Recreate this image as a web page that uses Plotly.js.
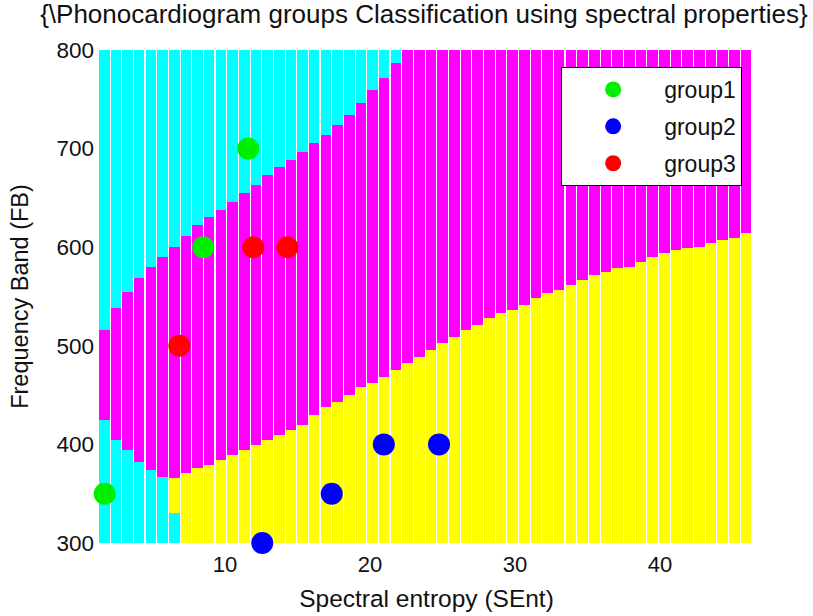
<!DOCTYPE html>
<html>
<head>
<meta charset="utf-8">
<script src="https://cdn.plot.ly/plotly-3.0.1.min.js"></script>
<style>html,body{margin:0;padding:0;background:#fff;}#chart{width:813px;height:616px;}</style>
</head>
<body>
<div id="chart"></div>
<script>
// Classification grid columns (Spectral entropy positions of each grid column)
const columnX = [1.67,2.47,3.28,4.08,4.89,5.69,6.50,7.30,8.11,8.91,9.72,10.52,11.33,12.13,12.94,13.74,14.55,15.35,16.15,16.96,17.76,18.57,19.37,20.18,20.98,21.79,22.59,23.40,24.20,25.01,25.81,26.62,27.42,28.23,29.03,29.83,30.64,31.44,32.25,33.05,33.86,34.66,35.47,36.27,37.08,37.88,38.69,39.49,40.30,41.10,41.91,42.71,43.51,44.32,45.12,45.93];
// top of the low cyan band (300 = none)
const cyanFloorTop = [424.7,404.5,394.3,382.2,374.0,366.9,330,300,300,300,300,300,300,300,300,300,300,300,300,300,300,300,300,300,300,300,300,300,300,300,300,300,300,300,300,300,300,300,300,300,300,300,300,300,300,300,300,300,300,300,300,300,300,300,300,300];
// bottom of the magenta band (= top of yellow band where present)
const magentaBottom = [424.7,404.5,394.3,382.2,374.0,366.9,365.9,371.0,376.1,379.1,384.2,389.2,394.3,399.4,404.5,409.5,414.6,419.7,429.8,437.9,443.0,450.1,458.2,462.3,468.4,475.5,482.6,488.6,495.7,502.8,508.9,516.0,521.1,528.2,533.3,536.3,541.4,548.5,553.5,556.6,561.7,566.7,571.8,574.8,578.9,579.9,585.0,590.1,594.1,597.2,599.2,600.2,604.3,607.3,609.3,614.4];
// top of the magenta band (above: cyan up to 800)
const magentaTop = [516.0,538.3,554.6,568.8,579.9,590.0,600.2,611.4,622.5,630.6,637.7,645.8,655.0,663.1,673.2,681.3,688.4,696.6,705.7,713.8,723.9,734.1,746.2,759.4,771.6,786.8,800,800,800,800,800,800,800,800,800,800,800,800,800,800,800,800,800,800,800,800,800,800,800,800,800,800,800,800,800,800];

const yMin = 300, yMax = 800;

// Observations
const group1X = [1.7, 8.5, 11.6];
const group1Y = [350, 600, 700];
const group2X = [12.57, 17.36, 20.95, 24.76];
const group2Y = [300, 350, 400, 400];
const group3X = [6.85, 11.95, 14.3, 46.7];
const group3Y = [500, 600, 600, 800];

const FONT = 'Liberation Sans, Arial, Helvetica, sans-serif';
const colW = 0.724;

function band(base, top, color) {
  return {
    type: 'bar', x: columnX, base: base,
    y: top.map((t, i) => Math.max(0, t - base[i])),
    width: colW, marker: {color: color, line: {width: 0}},
    showlegend: false, hoverinfo: 'skip'
  };
}
const floorBase = columnX.map(() => yMin);
const ceilTop = columnX.map(() => yMax);

const traces = [
  band(floorBase, cyanFloorTop, '#00ffff'),
  band(cyanFloorTop, magentaBottom, '#ffff00'),
  band(magentaBottom, magentaTop, '#ff00ff'),
  band(magentaTop, ceilTop, '#00ffff'),
  {type: 'scatter', mode: 'markers', name: 'group1', x: group1X, y: group1Y, legendgroup: 'g1',
   marker: {color: '#00ee00', size: 22}, cliponaxis: false},
  {type: 'scatter', mode: 'markers', name: 'group2', x: group2X, y: group2Y, legendgroup: 'g2',
   marker: {color: '#0000ff', size: 22}, cliponaxis: false},
  {type: 'scatter', mode: 'markers', name: 'group3', x: group3X, y: group3Y, legendgroup: 'g3',
   marker: {color: '#ff0000', size: 22}, cliponaxis: false}
];

const layout = {
  width: 813, height: 616,
  margin: {l: 97, r: 57, t: 50, b: 73},
  paper_bgcolor: '#ffffff', plot_bgcolor: '#ffffff',
  font: {family: FONT, size: 22, color: '#111'},
  barmode: 'overlay', bargap: 0,
  title: {text: '{\\Phonocardiogram groups Classification using spectral properties}',
          font: {family: FONT, size: 26, color: '#111'},
          xref: 'paper', x: 0.496, xanchor: 'center', yref: 'container', y: 0.978, yanchor: 'middle'},
  xaxis: {range: [1.17, 46.62], tickvals: [10, 20, 30, 40], ticks: '', showgrid: false, zeroline: false,
          showline: false, tickfont: {size: 22}, ticklabelstandoff: 6,
          title: {text: 'Spectral entropy (SEnt)', font: {size: 24.5}, standoff: 13}},
  yaxis: {range: [yMin, yMax], tickvals: [300, 400, 500, 600, 700, 800], ticks: '', showgrid: false, zeroline: false,
          showline: false, tickfont: {size: 22.5}, ticklabelstandoff: 2,
          title: {text: 'Frequency Band (FB)', font: {size: 23.5}, standoff: 21}},
  legend: {x: 0.979, xanchor: 'right', y: 0.9655, yanchor: 'top', bgcolor: '#ffffff',
           bordercolor: '#000000', borderwidth: 1, font: {size: 23}, tracegroupgap: 4,
           itemwidth: 92, entrywidth: 186},
  showlegend: true
};

Plotly.newPlot('chart', traces, layout, {displayModeBar: false, staticPlot: true});
</script>
</body>
</html>
